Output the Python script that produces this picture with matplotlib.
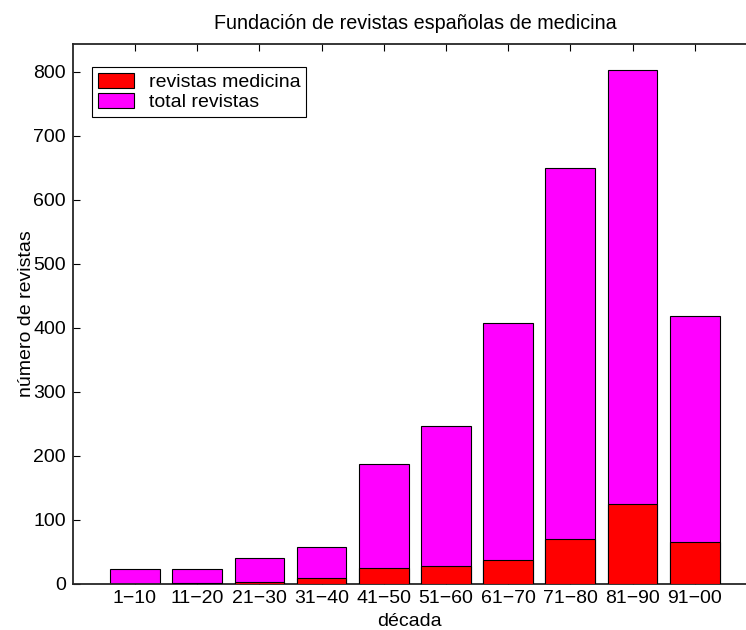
import numpy as np
import matplotlib
matplotlib.use("Agg")
import matplotlib.pyplot as plt

decadas = ["1-10", "11-20", "21-30", "31-40", "41-50", "51-60", "61-70", "71-80", "81-90", "91-00"]
total_revistas = [22, 22, 40, 57, 187, 246, 408, 650, 803, 418]
revistas_medicina = [0, 1, 3, 8, 24, 28, 36, 69, 124, 65]

plt.rcParams['font.family'] = ['Liberation Sans', 'DejaVu Sans']

fig = plt.figure(figsize=(7.46, 6.30), dpi=100)
ax = fig.add_axes([0.0976, 0.0738, 0.917, 0.856])

x = np.arange(1, len(decadas) + 1)
b_tot = ax.bar(x, total_revistas, width=0.8, color='#ff00ff', edgecolor='black', linewidth=0.8, zorder=2)
b_med = ax.bar(x, revistas_medicina, width=0.8, color='#ff0000', edgecolor='black', linewidth=0.8, zorder=3)

ax.set_xlim(0, 11)
ax.set_ylim(0, 843)
ax.set_xticks(x)
ax.set_xticklabels([d.replace("-", "\u2212") for d in decadas])
ax.set_yticks(np.arange(0, 801, 100))
ax.tick_params(direction='in', length=5, width=0.8, labelsize=14, top=True, right=True, pad=5)

for s in ax.spines.values():
    s.set_linewidth(1.3)
    s.set_color('#262626')

ax.set_title("Fundación de revistas españolas de medicina", fontsize=14.2, pad=11)
ax.set_xlabel("década", fontsize=14, va='top')
ax.xaxis.set_label_coords(0.4915, -0.054)
ax.set_ylabel("número de revistas", fontsize=14)
ax.yaxis.set_label_coords(-0.056, 0.5)

leg = ax.legend([b_med, b_tot], ["revistas medicina", "total revistas"], loc='upper left',
                bbox_to_anchor=(0.0285, 0.958), borderaxespad=0, fontsize=14, fancybox=False,
                framealpha=1, edgecolor='black', handlelength=1.86, handleheight=0.81,
                labelspacing=0.1, borderpad=0.3, handletextpad=0.75)
leg.get_frame().set_linewidth(0.8)

fig.savefig("out.png", dpi=100)
